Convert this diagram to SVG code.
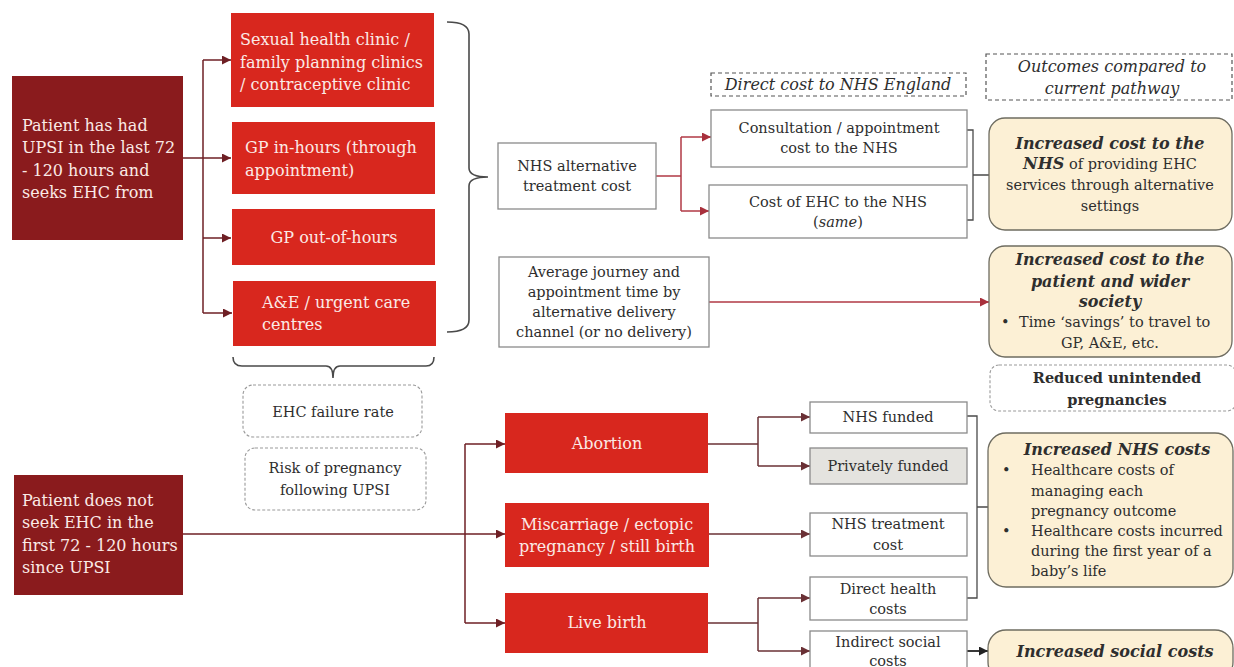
<svg xmlns="http://www.w3.org/2000/svg" width="1234" height="667" viewBox="0 0 1234 667">
  <style>
    .dark { fill: #8a1b1d; }
    .red { fill: #d8271e; }
    .wbox { fill: #ffffff; stroke: #8a8a8a; stroke-width: 1.3; }
    .grey { fill: #e4e3df; stroke: #8a8a8a; stroke-width: 1.3; }
    .cream { fill: #fcf0d5; stroke: #6e6c60; stroke-width: 1.3; }
    .dash { fill: none; stroke: #555; stroke-width: 1.2; stroke-dasharray: 4 3; }
    .dashsoft { fill: #fff; stroke: #9a9a9a; stroke-width: 1.1; stroke-dasharray: 3 2; }
    .brace { fill: none; stroke: #4a4a4a; stroke-width: 1.6; }
    text { font-family: "DejaVu Serif", "Liberation Serif", serif; }
    .lt { fill: #fbeae6; font-size: 16px; }
    .bt { fill: #2e2e2e; font-size: 14.5px; }
    .lbl { font-size: 16px; }
    .it { font-style: italic; }
    .bi { font-style: italic; font-weight: bold; font-size: 16px; }
    .c { text-anchor: middle; }
    .cd { fill: none; stroke: #6e1f24; stroke-width: 1.5; }
    .cr { fill: none; stroke: #b03845; stroke-width: 1.5; }
    .cg { fill: none; stroke: #6a3035; stroke-width: 1.5; }
  </style>
  <defs>
    <marker id="ad" markerUnits="userSpaceOnUse" markerWidth="10" markerHeight="10" refX="9" refY="4.5" orient="auto">
      <path d="M0,0 L9,4.5 L0,9 z" fill="#6e1f24"/>
    </marker>
    <marker id="ar" markerUnits="userSpaceOnUse" markerWidth="10" markerHeight="10" refX="9" refY="4.5" orient="auto">
      <path d="M0,0 L9,4.5 L0,9 z" fill="#a8303c"/>
    </marker>
    <marker id="ag" markerUnits="userSpaceOnUse" markerWidth="10" markerHeight="10" refX="9" refY="4.5" orient="auto">
      <path d="M0,0 L9,4.5 L0,9 z" fill="#6a3035"/>
    </marker>
    <marker id="ak" markerUnits="userSpaceOnUse" markerWidth="10" markerHeight="10" refX="9" refY="4.5" orient="auto">
      <path d="M0,0 L9,4.5 L0,9 z" fill="#222"/>
    </marker>
  </defs>

  <!-- connectors -->
  <g id="connectors">
    <!-- patient seeks EHC -> settings -->
    <path class="cd" d="M183,158 H203"/>
    <path class="cd" d="M203,60 V313"/>
    <path class="cd" d="M203,60 H231" marker-end="url(#ad)"/>
    <path class="cd" d="M203,158 H231" marker-end="url(#ad)"/>
    <path class="cd" d="M203,238 H231" marker-end="url(#ad)"/>
    <path class="cd" d="M203,313 H232" marker-end="url(#ad)"/>
    <!-- settings brace -->
    <path class="brace" d="M447,22 Q469,22 469,34 V168 Q469,177 488,177 Q469,177 469,186 V320 Q469,332 447,332"/>
    <!-- alternative treatment cost split -->
    <path class="cr" d="M656,176 H681"/>
    <path class="cr" d="M681,137 V211"/>
    <path class="cr" d="M681,137 H711" marker-end="url(#ar)"/>
    <path class="cr" d="M681,211 H709" marker-end="url(#ar)"/>
    <!-- direct cost bracket -->
    <path class="brace" d="M966,130 H973 V220 H966 M973,175 H989" style="stroke-width:1.3"/>
    <!-- journey time -> patient cost -->
    <path class="cr" d="M709,302 H989" marker-end="url(#ar)"/>
    <!-- settings lower brace -->
    <path class="brace" d="M233,357 Q233,366 242,366 H326 Q333,366 333,378 Q333,366 340,366 H426 Q434,366 434,357"/>
    <!-- no EHC -> pregnancy outcomes -->
    <path class="cd" d="M183,534 H465"/>
    <path class="cd" d="M465,444 V623"/>
    <path class="cd" d="M465,444 H505" marker-end="url(#ad)"/>
    <path class="cd" d="M465,534 H505" marker-end="url(#ad)"/>
    <path class="cd" d="M465,623 H505" marker-end="url(#ad)"/>
    <!-- abortion funding -->
    <path class="cg" d="M708,444 H758"/>
    <path class="cg" d="M758,417 V466"/>
    <path class="cg" d="M758,417 H810" marker-end="url(#ag)"/>
    <path class="cg" d="M758,466 H810" marker-end="url(#ag)"/>
    <!-- miscarriage treatment -->
    <path class="cg" d="M709,534 H810" marker-end="url(#ag)"/>
    <!-- live birth costs -->
    <path class="cg" d="M708,623 H758"/>
    <path class="cg" d="M758,598 V651"/>
    <path class="cg" d="M758,598 H810" marker-end="url(#ag)"/>
    <path class="cg" d="M758,651 H810" marker-end="url(#ag)"/>
    <!-- NHS cost bracket -->
    <path class="brace" d="M967,416 H977 V598 H967 M977,507 H988" style="stroke-width:1.3"/>
    <!-- indirect social -> social costs -->
    <path fill="none" stroke="#222" stroke-width="1.8" d="M967,651 H988" marker-end="url(#ak)"/>
  </g>

  <g id="seeks-ehc">
    <rect class="dark" x="12" y="76" width="171" height="164"/>
    <text class="lt"><tspan x="22" y="131">Patient has had</tspan><tspan x="22" y="153">UPSI in the last 72</tspan><tspan x="22" y="176">- 120 hours and</tspan><tspan x="22" y="198">seeks EHC from</tspan></text>
  </g>

  <g id="sexual-health">
    <rect class="red" x="231" y="13" width="203" height="94"/>
    <text class="lt"><tspan x="240" y="45">Sexual health clinic /</tspan><tspan x="240" y="68">family planning clinics</tspan><tspan x="240" y="90">/ contraceptive clinic</tspan></text>
  </g>
  <g id="gp-in-hours">
    <rect class="red" x="232" y="122" width="203" height="72"/>
    <text class="lt"><tspan x="245" y="153">GP in-hours (through</tspan><tspan x="245" y="176">appointment)</tspan></text>
  </g>
  <g id="gp-out-of-hours">
    <rect class="red" x="232" y="209" width="203" height="56"/>
    <text class="lt c" x="334" y="243">GP out-of-hours</text>
  </g>
  <g id="ae">
    <rect class="red" x="233" y="281" width="203" height="65"/>
    <text class="lt"><tspan x="262" y="308">A&amp;E / urgent care</tspan><tspan x="262" y="330">centres</tspan></text>
  </g>

  <g id="alt-cost">
    <rect class="wbox" x="498" y="143" width="158" height="66"/>
    <text class="bt c"><tspan x="577" y="171">NHS alternative</tspan><tspan x="577" y="191">treatment cost</tspan></text>
  </g>
  <g id="journey-time">
    <rect class="wbox" x="499" y="257" width="210" height="90"/>
    <text class="bt c"><tspan x="604" y="277">Average journey and</tspan><tspan x="604" y="297">appointment time by</tspan><tspan x="604" y="317">alternative delivery</tspan><tspan x="604" y="337">channel (or no delivery)</tspan></text>
  </g>

  <g id="direct-cost-label">
    <rect class="dash" x="711" y="73" width="255" height="23"/>
    <text class="bt lbl it c" x="838" y="90">Direct cost to NHS England</text>
  </g>
  <g id="consultation">
    <rect class="wbox" x="711" y="110" width="256" height="57"/>
    <text class="bt c"><tspan x="839" y="133">Consultation / appointment</tspan><tspan x="839" y="153">cost to the NHS</tspan></text>
  </g>
  <g id="ehc-cost">
    <rect class="wbox" x="709" y="185" width="258" height="53"/>
    <text class="bt c"><tspan x="838" y="207">Cost of EHC to the NHS</tspan><tspan x="838" y="227">(<tspan class="it">same</tspan>)</tspan></text>
  </g>

  <g id="outcomes-label">
    <rect class="dash" x="986" y="54" width="246" height="46"/>
    <text class="bt lbl it c"><tspan x="1112" y="72">Outcomes compared to</tspan><tspan x="1112" y="94">current pathway</tspan></text>
  </g>
  <g id="nhs-cost-outcome">
    <rect class="cream" x="989" y="118" width="243" height="112" rx="16"/>
    <text class="bt c"><tspan x="1110" y="149" class="bi">Increased cost to the</tspan><tspan x="1110" y="169"><tspan class="bi">NHS</tspan> of providing EHC</tspan><tspan x="1110" y="190">services through alternative</tspan><tspan x="1110" y="211">settings</tspan></text>
  </g>
  <g id="patient-cost-outcome">
    <rect class="cream" x="989" y="246" width="243" height="111" rx="16"/>
    <text class="bt c"><tspan x="1110" y="265" class="bi">Increased cost to the</tspan><tspan x="1110" y="287" class="bi">patient and wider</tspan><tspan x="1110" y="307" class="bi">society</tspan></text>
    <text class="bt"><tspan x="1001" y="327">•</tspan><tspan x="1019" y="327">Time ‘savings’ to travel to</tspan></text>
    <text class="bt c" x="1110" y="348">GP, A&amp;E, etc.</text>
  </g>

  <g id="ehc-failure">
    <rect class="dashsoft" x="243" y="385" width="179" height="52" rx="10"/>
    <text class="bt c" x="333" y="417">EHC failure rate</text>
  </g>
  <g id="pregnancy-risk">
    <rect class="dashsoft" x="245" y="448" width="181" height="62" rx="10"/>
    <text class="bt c"><tspan x="335" y="473">Risk of pregnancy</tspan><tspan x="335" y="495">following UPSI</tspan></text>
  </g>

  <g id="no-ehc">
    <rect class="dark" x="14" y="475" width="169" height="120"/>
    <text class="lt"><tspan x="22" y="506">Patient does not</tspan><tspan x="22" y="528">seek EHC in the</tspan><tspan x="22" y="551">first 72 - 120 hours</tspan><tspan x="22" y="573">since UPSI</tspan></text>
  </g>

  <g id="abortion">
    <rect class="red" x="505" y="413" width="203" height="60"/>
    <text class="lt c" x="607" y="449">Abortion</text>
  </g>
  <g id="miscarriage">
    <rect class="red" x="505" y="503" width="204" height="64"/>
    <text class="lt c"><tspan x="607" y="530">Miscarriage / ectopic</tspan><tspan x="607" y="552">pregnancy / still birth</tspan></text>
  </g>
  <g id="live-birth">
    <rect class="red" x="505" y="593" width="203" height="60"/>
    <text class="lt c" x="607" y="628">Live birth</text>
  </g>

  <g id="nhs-funded">
    <rect class="wbox" x="810" y="402" width="157" height="31"/>
    <text class="bt c" x="888" y="422">NHS funded</text>
  </g>
  <g id="privately-funded">
    <rect class="grey" x="810" y="448" width="157" height="36"/>
    <text class="bt c" x="888" y="471">Privately funded</text>
  </g>
  <g id="nhs-treatment">
    <rect class="wbox" x="810" y="513" width="157" height="43"/>
    <text class="bt c"><tspan x="888" y="529">NHS treatment</tspan><tspan x="888" y="550">cost</tspan></text>
  </g>
  <g id="direct-health">
    <rect class="wbox" x="810" y="577" width="157" height="43"/>
    <text class="bt c"><tspan x="888" y="594">Direct health</tspan><tspan x="888" y="614">costs</tspan></text>
  </g>
  <g id="indirect-social">
    <rect class="wbox" x="810" y="631" width="157" height="44"/>
    <text class="bt c"><tspan x="888" y="647">Indirect social</tspan><tspan x="888" y="666">costs</tspan></text>
  </g>

  <g id="reduced-pregnancies">
    <rect class="dashsoft" x="990" y="365" width="246" height="46" rx="9"/>
    <text class="bt c" font-weight="bold" font-size="15.5"><tspan x="1117" y="383">Reduced unintended</tspan><tspan x="1117" y="405">pregnancies</tspan></text>
  </g>
  <g id="nhs-costs-outcome">
    <rect class="cream" x="988" y="433" width="245" height="154" rx="18"/>
    <text class="bt c bi" x="1117" y="455">Increased NHS costs</text>
    <text class="bt"><tspan x="1002" y="475">•</tspan><tspan x="1031" y="475">Healthcare costs of</tspan><tspan x="1031" y="496">managing each</tspan><tspan x="1031" y="516">pregnancy outcome</tspan><tspan x="1002" y="536">•</tspan><tspan x="1031" y="536">Healthcare costs incurred</tspan><tspan x="1031" y="556">during the first year of a</tspan><tspan x="1031" y="576">baby’s life</tspan></text>
  </g>
  <g id="social-costs-outcome">
    <rect class="cream" x="988" y="630" width="245" height="50" rx="18"/>
    <text class="bt c bi" x="1115" y="657">Increased social costs</text>
  </g>
</svg>
